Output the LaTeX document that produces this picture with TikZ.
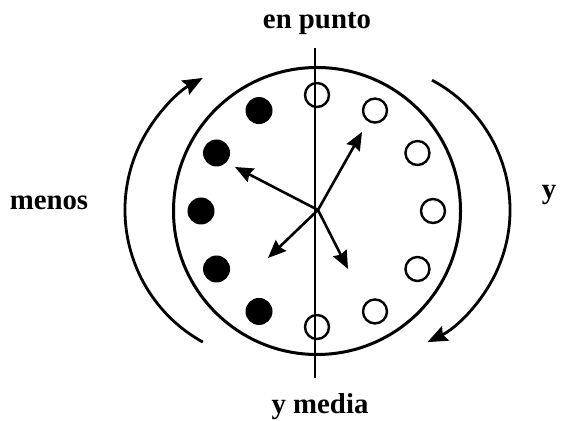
\documentclass[tikz,border=0pt]{standalone}
\usepackage{fontspec}
\setmainfont{Liberation Serif}
\usetikzlibrary{arrows.meta}
\tikzset{
  abierto/.style={circle,draw,line width=1.2pt,minimum size=12pt,inner sep=0pt},
  lleno/.style={circle,fill,minimum size=13.5pt,inner sep=0pt},
  flecha/.style={line width=1.3pt,-{Stealth[length=9pt,width=7.5pt,inset=1pt]}},
  giro/.style={line width=1.4pt,-{Stealth[length=10pt,width=8pt,inset=1.5pt]}},
  rotulo/.style={font=\bfseries\fontsize{14.4}{16}\selectfont}
}
\begin{document}
\begin{tikzpicture}[x=0.5pt,y=0.5pt]
    \useasboundingbox (0,0) rectangle (566,-421);
    \coordinate (c) at (317,-211);
    \draw[line width=1.5pt] (c) circle (143.5);
    % eje vertical
    \coordinate (arriba) at (315,-48);
    \coordinate (abajo) at (315,-378);
    \draw[line width=0.8pt] (arriba) -- (abajo);
    % posiciones del reloj
    \foreach \a in {90,60,...,-90} {
      \node[abierto] (h\a) at ([shift={(\a:116)}]c) {};
    }
    \foreach \a in {120,150,...,240} {
      \node[lleno] (h\a) at ([shift={(\a:116)}]c) {};
    }
    % agujas
    \coordinate (m) at (318,-210);
    \foreach \n/\x/\y in {a/235/-167,b/362/-132,d/268/-258,e/348/-269} {
      \coordinate (p\n) at (\x,\y);
      \draw[flecha] (m) -- (p\n);
    }
    % sentidos de giro
    \coordinate (izq) at (276,-210);
    \coordinate (der) at (363,-210);
    \draw[giro] ([shift={(241:151)}]izq) arc[start angle=241,end angle=119,radius=151];
    \draw[giro] ([shift={(62:147)}]der) arc[start angle=62,end angle=-64,radius=147];
    % rotulos
    \node[rotulo] (punto) at (317,-23) {en punto};
    \node[rotulo] (media) at (320,-407) {y media};
    \node[rotulo] (menos) at (49,-203) {menos};
    \node[rotulo] (ylado) at (549,-195) {y};
  \end{tikzpicture}
\end{document}
